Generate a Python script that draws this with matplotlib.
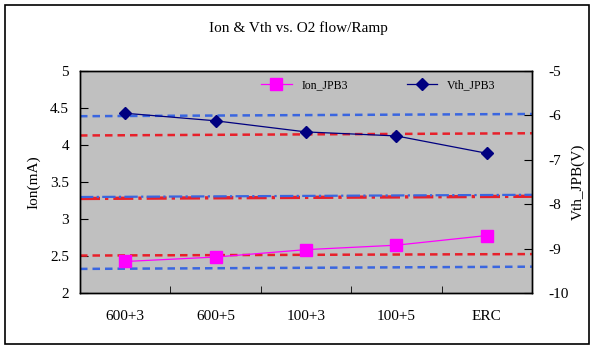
import matplotlib
matplotlib.use("Agg")
import matplotlib.pyplot as plt
from matplotlib.patches import Rectangle

plt.rcParams['font.family'] = ['Liberation Serif', 'DejaVu Serif']
plt.rcParams['axes.unicode_minus'] = False

categories = ['600+3', '600+5', '100+3', '100+5', 'ERC']
ion = [2.43, 2.49, 2.59, 2.65, 2.78]
vth = [-5.95, -6.12, -6.37, -6.46, -6.85]

# reference lines (left axis units): start value, end value
blue_dash_hi = [4.39, 4.42]
red_dash_hi = [4.13, 4.16]
blue_dashdot = [3.30, 3.33]
red_dashdot = [3.28, 3.31]
red_dash_lo = [2.51, 2.53]
blue_dash_lo = [2.33, 2.36]

fig = plt.figure(figsize=(5.97, 3.48), dpi=100)
fig.patches.append(Rectangle((0.008, 0.012), 0.978, 0.974, transform=fig.transFigure,
                             fill=False, edgecolor='black', linewidth=1.2))

ax = fig.add_axes([0.134, 0.157, 0.757, 0.639])
ax.set_facecolor('#c0c0c0')
ax2 = ax.twinx()

x = list(range(len(categories)))
edges = [-0.5, 4.5]

ax.plot(edges, blue_dash_hi, color='#3a66e0', linestyle=(0, (3, 2)), lw=1.8)
ax.plot(edges, red_dash_hi, color='#e8202a', linestyle=(0, (3, 2)), lw=1.8)
ax.plot(edges, red_dashdot, color='#e8202a', linestyle=(0, (6, 1.5, 1, 1.5)), lw=2.4)
ax.plot(edges, blue_dashdot, color='#3a66e0', linestyle=(0, (6, 1.5, 1, 1.5)), lw=1.6)
ax.plot(edges, red_dash_lo, color='#e8202a', linestyle=(0, (3, 2)), lw=1.8)
ax.plot(edges, blue_dash_lo, color='#3a66e0', linestyle=(0, (3, 2)), lw=1.8)

l1, = ax.plot(x, ion, color='#ff00ff', marker='s', markersize=8, lw=0.9, label='Ion_JPB3')
l2, = ax2.plot(x, vth, color='#000080', marker='D', markersize=6.5, lw=0.9, label='Vth_JPB3')

ax.set_xlim(-0.5, 4.5)
ax.set_ylim(2, 5)
ax2.set_ylim(-10, -5)
ax.set_yticks([2, 2.5, 3, 3.5, 4, 4.5, 5])
ax.set_yticklabels(['2', '2.5', '3', '3.5', '4', '4.5', '5'])
ax2.set_yticks([-10, -9, -8, -7, -6, -5])
ax.set_xticks(x)
ax.set_xticklabels(categories)
ax.set_xticks([0.5, 1.5, 2.5, 3.5], minor=True)
ax.tick_params(axis='x', which='major', length=0, pad=12, labelsize=11)
ax.tick_params(axis='x', which='minor', direction='in', length=5)
ax.tick_params(axis='y', direction='in', length=6, labelsize=11, pad=8)
ax2.tick_params(axis='y', direction='in', length=6, labelsize=11, pad=12)

for a in (ax, ax2):
    for s in a.spines.values():
        s.set_linewidth(1.0)
        s.set_color('black')

ax.set_ylabel('Ion(mA)', fontsize=11, labelpad=7)
ax2.set_ylabel('Vth_JPB(V)', fontsize=11, labelpad=2, rotation=90)
fig.text(0.5, 0.92, 'Ion & Vth vs. O2 flow/Ramp', ha='center', va='center', fontsize=11)

ax.legend([l1, l2], ['Ion_JPB3', 'Vth_JPB3'], loc='upper center', ncol=2, frameon=False,
          fontsize=8.5, columnspacing=5.0, handlelength=2.6, bbox_to_anchor=(0.66, 1.0),
          borderaxespad=0.3)

fig.savefig('out.png', dpi=100)
